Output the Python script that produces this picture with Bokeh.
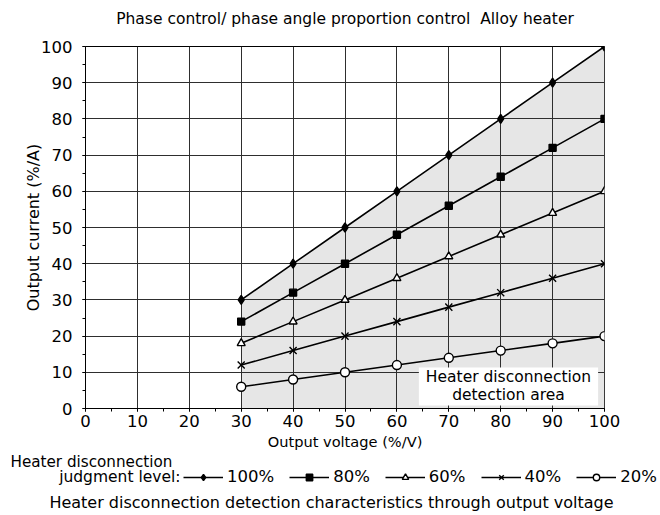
from bokeh.plotting import figure
from bokeh.models import Label, Legend, LegendItem, SingleIntervalTicker, Range1d
from bokeh.embed import file_html
from bokeh.resources import INLINE

# ---- data ----
voltage = [30, 40, 50, 60, 70, 80, 90, 100]
level_100 = [30, 40, 50, 60, 70, 80, 90, 100]
level_80 = [24, 32, 40, 48, 56, 64, 72, 80]
level_60 = [18, 24, 30, 36, 42, 48, 54, 60]
level_40 = [12, 16, 20, 24, 28, 32, 36, 40]
level_20 = [6, 8, 10, 12, 14, 16, 18, 20]
series_names = ["100%", "80%", "60%", "40%", "20%"]
series_values = [level_100, level_80, level_60, level_40, level_20]
markers = ["diamond", "square", "triangle", "x", "circle"]
marker_sizes = [9, 7, 8, 10, 9]
marker_fill = [True, True, False, False, False]

title_text = "Phase control/ phase angle proportion control\u00a0 Alloy heater"
x_label = "Output voltage (%/V)"
y_label = "Output current (%/A)"
area_text = "Heater disconnection\ndetection area"
legend_title_1 = "Heater disconnection"
legend_title_2 = "judgment level:"
caption = "Heater disconnection detection characteristics through output voltage"

FONT = "DejaVu Sans"
W = 660


def strip(height):
    f = figure(width=W, height=height, output_backend="svg", toolbar_location=None,
               x_range=Range1d(0, W), y_range=Range1d(height, 0),
               x_axis_type=None, y_axis_type=None,
               min_border_left=0, min_border_right=0, min_border_top=0, min_border_bottom=0)
    f.outline_line_color = None
    f.xgrid.visible = False
    f.ygrid.visible = False
    f.background_fill_color = "white"
    f.border_fill_color = "white"
    return f


# ---- title strip ----
H0 = 36
t = strip(H0)
t.add_layout(Label(x=344.5, y=18, text=title_text, text_align="center", text_baseline="middle",
                   text_font=FONT, text_font_size="15.5px", text_color="black"))

# ---- main chart ----
p = figure(width=W, height=452 - H0, output_backend="svg", toolbar_location=None,
           x_range=Range1d(0, 100), y_range=Range1d(0, 100),
           min_border_left=85, min_border_right=56, min_border_top=10, min_border_bottom=44)
p.background_fill_color = "white"
p.border_fill_color = "white"
p.outline_line_color = "black"
p.outline_line_width = 1

# shaded detection area (under the 100% line)
p.varea(x=voltage, y1=[0] * len(voltage), y2=level_100, fill_color="#e6e6e6", level="image")

for ax in (p.xaxis[0], p.yaxis[0]):
    ax.ticker = SingleIntervalTicker(interval=10, num_minor_ticks=2)
    ax.axis_line_color = "black"
    ax.major_tick_line_color = "black"
    ax.minor_tick_line_color = "black"
    ax.major_tick_in = 0
    ax.major_tick_out = 3
    ax.minor_tick_in = 0
    ax.minor_tick_out = 3
    ax.major_label_text_font = FONT
    ax.major_label_text_font_size = "16.5px"
    ax.major_label_text_color = "black"
    ax.axis_label_text_font = FONT
    ax.axis_label_text_font_style = "normal"
    ax.axis_label_text_color = "black"

p.xaxis.axis_label = x_label
p.yaxis.axis_label = y_label
p.xaxis.axis_label_text_font_size = "14.6px"
p.yaxis.axis_label_text_font_size = "16px"
p.xaxis.major_label_standoff = 3
p.xaxis.axis_label_standoff = 3
p.yaxis.major_label_standoff = 10
p.yaxis.axis_label_standoff = -5

for g in (p.xgrid[0], p.ygrid[0]):
    g.ticker = SingleIntervalTicker(interval=10)
    g.grid_line_color = "#2e2e2e"
    g.grid_line_width = 1

for name, vals, mk, sz, filled in zip(series_names, series_values, markers, marker_sizes, marker_fill):
    p.line(voltage, vals, line_color="black", line_width=1.6)
    p.scatter(voltage, vals, marker=mk, size=sz, line_color="black", line_width=1.4,
              fill_color="black" if filled else "white")

p.add_layout(Label(x=81.5, y=6.1, text=area_text, text_align="center", text_baseline="middle",
                   text_font=FONT, text_font_size="15.5px", text_color="black", text_line_height=1.0,
                   background_fill_color="white", padding=(7, 1)))

# ---- legend strip ----
H2 = 63
q = strip(H2)

items = []
for name, vals, mk, sz, filled in zip(series_names, series_values, markers, marker_sizes, marker_fill):
    lr = q.line(voltage, vals, line_color="black", line_width=1.6, visible=False)
    sr = q.scatter(voltage, vals, marker=mk, size=sz, line_color="black", line_width=1.4,
                   fill_color="black" if filled else "white", visible=False)
    items.append(LegendItem(label=name, renderers=[lr, sr]))

legend = Legend(items=items, orientation="horizontal", location=(183, 29),
                glyph_width=40, glyph_height=16, label_height=16, label_standoff=4, spacing=15,
                padding=0, margin=0, border_line_alpha=0, background_fill_alpha=0,
                inactive_fill_alpha=0,
                label_text_font=FONT, label_text_font_size="16.5px", label_text_color="black",
                label_text_baseline="middle")
q.add_layout(legend, "center")

q.add_layout(Label(x=10, y=9, text=legend_title_1, text_align="left", text_baseline="middle",
                   text_font=FONT, text_font_size="15.2px", text_color="black"))
q.add_layout(Label(x=180, y=24, text=legend_title_2, text_align="right", text_baseline="middle",
                   text_font=FONT, text_font_size="15.5px", text_color="black"))
q.add_layout(Label(x=331, y=50, text=caption, text_align="center", text_baseline="middle",
                   text_font=FONT, text_font_size="16px", text_color="black"))

open("out.html", "w").write(file_html([t, p, q], INLINE))
